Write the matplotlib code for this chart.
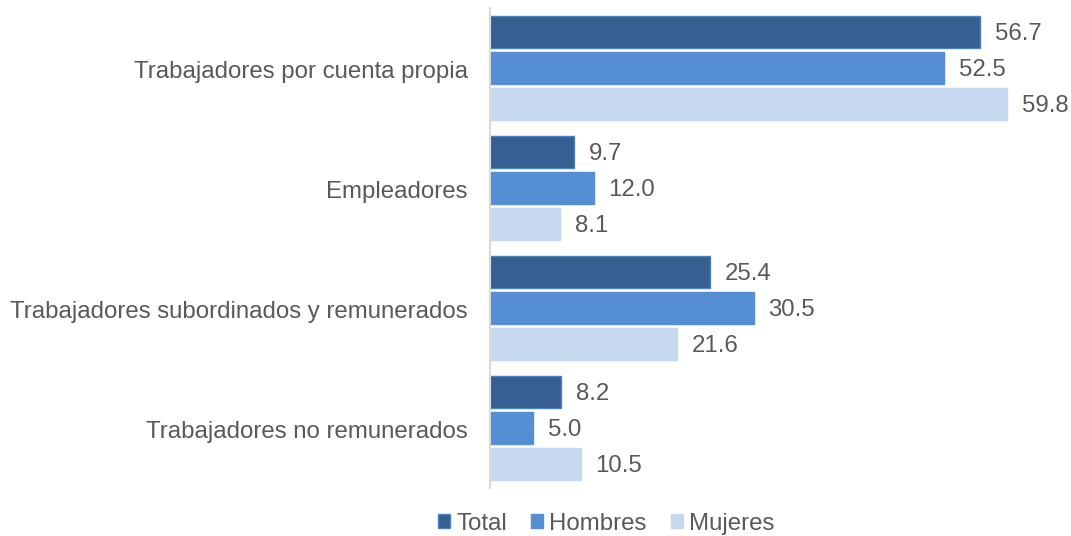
import numpy as np
import matplotlib.pyplot as plt

plt.rcParams['font.family'] = ['Liberation Sans', 'DejaVu Sans']

# data
categories = ['Trabajadores por cuenta propia', 'Empleadores',
              'Trabajadores subordinados y remunerados', 'Trabajadores no remunerados']
series = ['Total', 'Hombres', 'Mujeres']
total = [56.7, 9.7, 25.4, 8.2]
hombres = [52.5, 12.0, 30.5, 5.0]
mujeres = [59.8, 8.1, 21.6, 10.5]

colors = ['#366092', '#558ED5', '#C6D9F1']
edges = ['#4F81BD', '#558ED5', '#C6D9F1']
textcol = '#595959'
fs = 17.3

fig = plt.figure(figsize=(10.71, 5.36), dpi=100)
ax = fig.add_axes([0.4575, 0.0896, 0.525, 0.8955])

y = np.arange(len(categories))
offsets = [-0.3, 0.0, 0.3]
h = 0.27
for vals, name, off, c, ec in zip([total, hombres, mujeres], series, offsets, colors, edges):
    bars = ax.barh(y + off, vals, height=h, color=c, edgecolor=ec, linewidth=1.0, label=name)
    for b, v in zip(bars, vals):
        ax.text(b.get_width() + 1.7, b.get_y() + b.get_height() / 2 + 0.02, f'{v:.1f}',
                va='center', ha='left', fontsize=fs, color=textcol)

ax.set_xlim(0, 65)
ax.set_ylim(3.5, -0.5)
ax.set_yticks(y + 0.015)
ax.set_yticklabels(categories, fontsize=fs, color=textcol)
ax.tick_params(axis='y', length=0, pad=16)
ax.set_xticks([])
for s in ['top', 'right', 'bottom']:
    ax.spines[s].set_visible(False)
ax.spines['left'].set_color('#D9D9D9')
ax.spines['left'].set_linewidth(1.5)

fig.legend(loc='center', bbox_to_anchor=(0.566, 0.023), ncol=3, frameon=False,
           fontsize=fs, labelcolor=textcol, handlelength=0.5, handleheight=0.5,
           handletextpad=0.25, columnspacing=1.0, borderpad=0)

fig.savefig('out.png', dpi=100)
